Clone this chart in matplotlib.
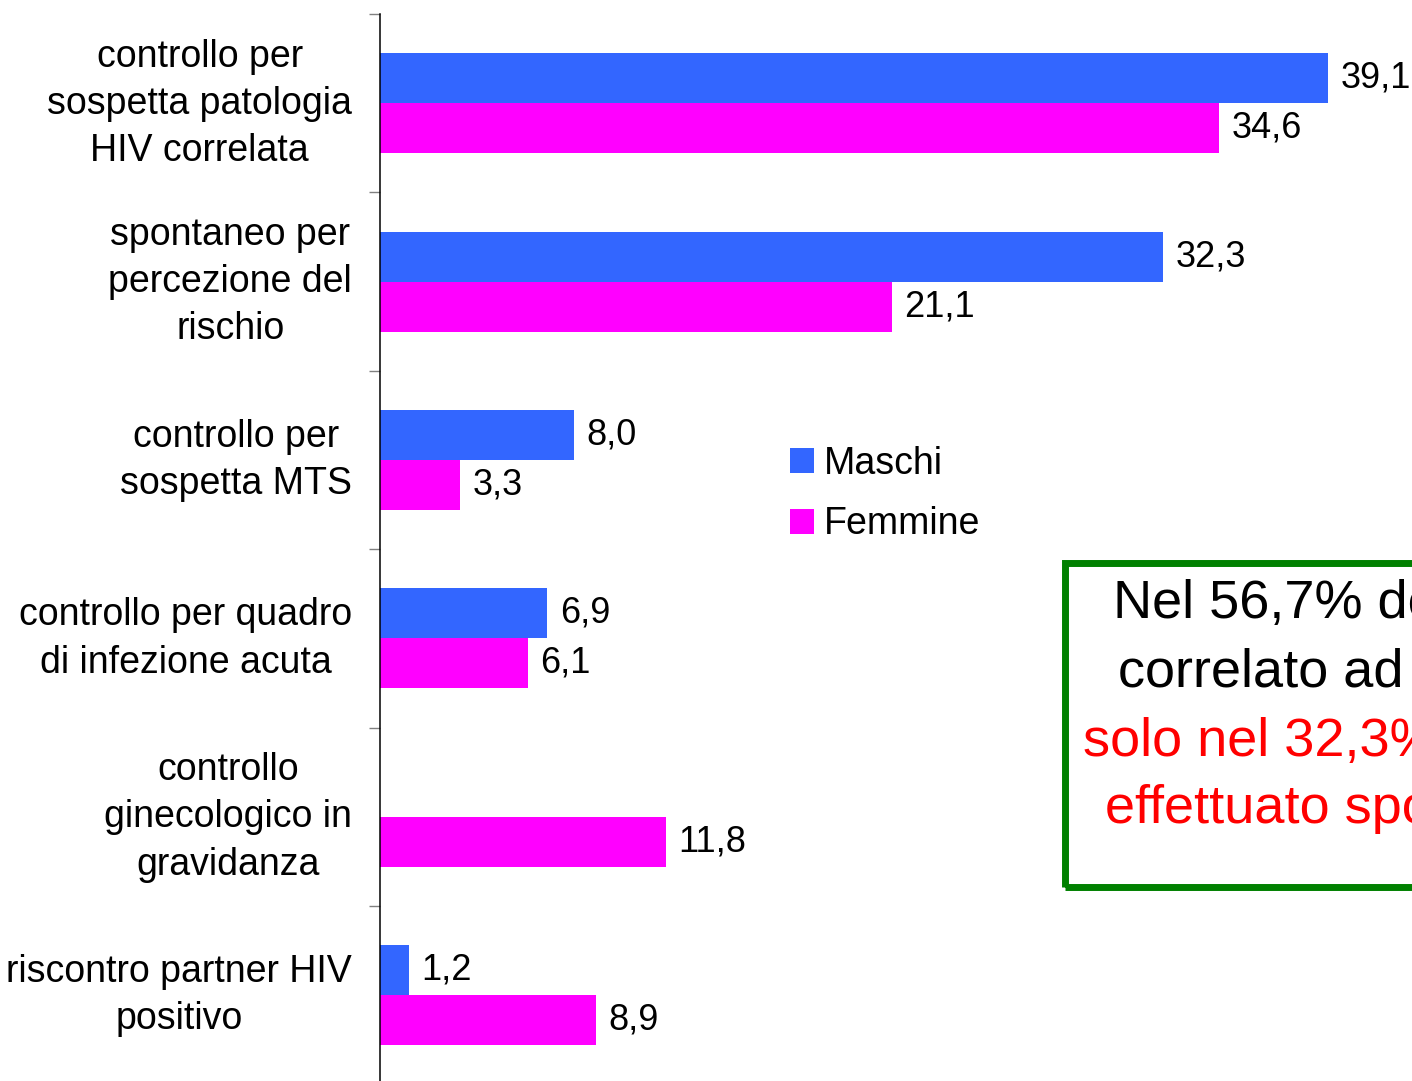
import numpy as np
import matplotlib
matplotlib.use('Agg')
import matplotlib.pyplot as plt
import matplotlib.transforms as mtransforms
from matplotlib.patches import Rectangle

plt.rcParams['font.family'] = ['Liberation Sans', 'DejaVu Sans']

# data
categories = ['controllo per\nsospetta patologia\nHIV correlata',
              'spontaneo per\npercezione del\nrischio',
              'controllo per\nsospetta MTS',
              'controllo per quadro\ndi infezione acuta',
              'controllo\nginecologico in\ngravidanza',
              'riscontro partner HIV\npositivo']
maschi = [39.1, 32.3, 8.0, 6.9, np.nan, 1.2]
femmine = [34.6, 21.1, 3.3, 6.1, 11.8, 8.9]
series_names = ['Maschi', 'Femmine']
note_lines = ['Nel 56,7% dei casi il test è',
              'correlato ad una patologia,',
              'solo nel 32,3% dei casi è',
              'effettuato spontaneamente']

blue = '#3366FF'
magenta = '#FF00FF'

W, H = 1412, 1081
fig = plt.figure(figsize=(W / 100, H / 100), dpi=100)
ax = fig.add_axes([380 / W, -3.4 / H, (1471 - 380) / W, (1084.4 - 14) / H])

y = np.arange(len(categories))
h = 0.28
bm = ax.barh(y - h / 2, maschi, height=h, color=blue, label=series_names[0])
bf = ax.barh(y + h / 2, femmine, height=h, color=magenta, label=series_names[1])

def fmt(v):
    return ('%.1f' % v).replace('.', ',')

for bars, vals in ((bm, maschi), (bf, femmine)):
    for b, v in zip(bars, vals):
        if np.isnan(v):
            continue
        ax.annotate(fmt(v), (v, b.get_y() + b.get_height() / 2),
                    xytext=(9, 0), textcoords='offset points',
                    va='center', ha='left', fontsize=26)

ax.set_xlim(0, 45)
ax.set_ylim(len(categories) - 0.5, -0.5)

ax.set_yticks(y)
ax.set_yticklabels(categories, fontsize=27, ha='right', multialignment='center',
                   linespacing=1.4)
ax.tick_params(axis='y', which='major', length=0, pad=20)
# nudge labels up a little
shift = mtransforms.ScaledTranslation(0, 9 / 100, fig.dpi_scale_trans)
for lab in ax.get_yticklabels():
    lab.set_transform(lab.get_transform() + shift)
ax.set_yticks(np.arange(-0.5, len(categories)), minor=True)
ax.tick_params(axis='y', which='minor', length=8, width=1, color='#808080')
ax.set_xticks([])

for s in ('top', 'right', 'bottom'):
    ax.spines[s].set_visible(False)
ax.spines['left'].set_linewidth(1.1)

leg = fig.legend(handles=[bm, bf], labels=series_names, loc='center left',
                 bbox_to_anchor=(790 / W, 1 - 494 / H), frameon=False,
                 fontsize=27, handlelength=0.64, handleheight=0.64,
                 handletextpad=0.25, labelspacing=0.66, borderpad=0,
                 borderaxespad=0)

# note box
fig.add_artist(Rectangle((1065 / W, 1 - 887 / H), (1600 - 1065) / W, (887 - 563) / H,
                         transform=fig.transFigure, fill=False,
                         edgecolor='#008000', linewidth=5))
note_x = [1113, 1118, 1083, 1105]
note_base = [618, 687, 756, 823]
note_col = ['black', 'black', 'red', 'red']
for txt, nx, nb, c in zip(note_lines, note_x, note_base, note_col):
    fig.text(nx / W, 1 - nb / H, txt, fontsize=39, color=c, ha='left', va='baseline')

fig.savefig('out.png', dpi=100)
